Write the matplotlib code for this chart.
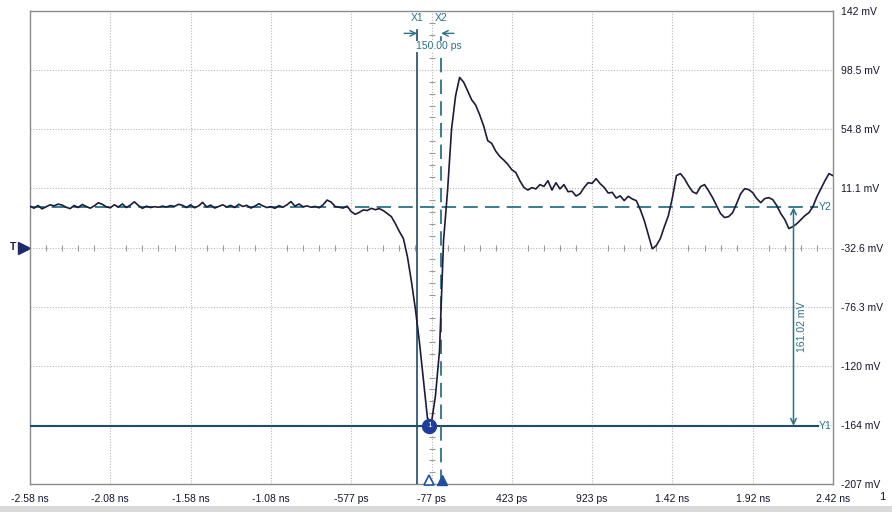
import numpy as np
import matplotlib
matplotlib.use("Agg")
import matplotlib.pyplot as plt
from matplotlib.transforms import blended_transform_factory
from matplotlib.patches import Rectangle

plt.rcParams['font.family'] = ['Liberation Sans', 'DejaVu Sans']

# ---------------- data ----------------
x_tick_values = [-2.577, -2.077, -1.577, -1.077, -0.577, -0.077, 0.423, 0.923, 1.423, 1.923, 2.423]
x_tick_labels = ['-2.58 ns', '-2.08 ns', '-1.58 ns', '-1.08 ns', '-577 ps', '-77 ps',
                 '423 ps', '923 ps', '1.42 ns', '1.92 ns', '2.42 ns']
y_tick_values = [142, 98.375, 54.75, 11.125, -32.5, -76.125, -119.75, -163.375, -207]
y_tick_labels = ['142 mV', '98.5 mV', '54.8 mV', '11.1 mV', '-32.6 mV', '-76.3 mV',
                 '-120 mV', '-164 mV', '-207 mV']

sample_start_ns = -2.577
sample_step_ns = 0.025
signal_mv = [
    -2.0, -3.5, -1.5, -4.0, -2.5, -1.0, -1.8, -0.5, -1.2, -2.8,
    -3.8, -1.5, -3.0, -0.8, -2.2, -3.5, -1.8, 0.5, -0.6, -2.5,
    -3.2, -1.0, -2.6, -0.4, -3.0, -1.2, 1.2, -1.5, -3.6, -2.0,
    -3.0, -2.4, -2.8, -2.0, -2.6, -1.6, -2.2, -0.6, -1.4, -3.0,
    -1.0, -3.2, -1.8, 0.8, -2.6, -1.2, -3.4, -2.2, -1.0, -2.6,
    -1.4, -3.0, -0.6, -2.2, -1.4, -3.4, -2.0, -0.2, -1.8, -3.0,
    -2.4, -3.6, -1.6, -2.8, -1.0, 1.4, -2.0, -0.4, -2.4, -1.8,
    -2.8, -2.2, -3.2, -1.0, 2.5, 1.0, -2.2, -2.8, -3.4, -2.0,
    -6.0, -8.0, -6.6, -4.8, -5.2, -3.6, -4.6, -3.8,
    -5.3, -7.5, -9.7, -14.9, -20.7, -25.9, -39.2, -57.6, -78.2, -102.5,
    -130.5, -158.5, -161.5, -141.5, -108.4, -27.4, 9.4, 55.1, 79.4, 93.0,
    89.5, 83.1, 76.5, 72.6, 65.4, 57.1, 46.3, 44.3, 38.6, 34.7,
    32.0, 28.9, 24.9, 22.8, 16.8, 11.9, 9.9, 11.7, 10.7, 13.9,
    12.6, 16.8, 9.9, 15.3, 10.7, 13.9, 8.7, 9.0, 5.5, 7.2,
    11.7, 15.3, 14.8, 18.3, 14.6, 11.9, 7.7, 8.2, 4.0, 5.6,
    2.1, 5.3, 3.3, 2.1, -4.5, -12.6, -23.0, -33.5, -31.0, -25.9,
    -17.1, -9.0, 4.3, 20.5, 22.0, 18.3, 13.1, 8.7, 7.2, 12.4,
    13.9, 9.4, 4.3, -1.6, -7.5, -10.4, -9.7, -6.8, -0.1, 7.2,
    10.9, 10.2, 8.0, 3.6, 0.6, 3.6, 4.3, 2.8, -1.6, -7.5,
    -11.9, -18.5, -17.1, -14.9, -11.9, -9.0, -6.8, -2.3, 5.0, 10.9,
    16.8, 22.0, 20.5,
]

cursor_x1_ns = -0.167
cursor_x2_ns = -0.017
cursor_y1_mv = -164.0
cursor_y2_mv = -2.98
marker_min_ns = -0.091
delta_t_label = '150.00 ps'
delta_v_label = '161.02 mV'
center_x_ns = -0.077
center_y_mv = -32.5

# ---------------- styling ----------------
W, H = 892, 512
fig = plt.figure(figsize=(W / 100, H / 100), dpi=100)
ax = fig.add_axes([30 / W, (H - 484) / H, (833 - 30) / W, (484 - 11) / H])

xmin, xmax = x_tick_values[0], x_tick_values[-1]
ymin, ymax = y_tick_values[-1], y_tick_values[0]
ax.set_xlim(xmin, xmax)
ax.set_ylim(ymin, ymax)

grid_col = '#b8b8b8'
for xv in x_tick_values[1:-1]:
    ax.axvline(xv, color=grid_col, lw=0.8, ls=(0, (1, 1.5)), zorder=1)
for yv in y_tick_values[1:-1]:
    ax.axhline(yv, color=grid_col, lw=0.8, ls=(0, (1, 1.5)), zorder=1)

# center crosshair minor ticks
xdiv = x_tick_values[1] - x_tick_values[0]
ydiv = y_tick_values[0] - y_tick_values[1]
mx = [xmin + xdiv / 5 * i for i in range(1, 50) if i % 5 != 0]
my = [ymin + ydiv / 5 * i for i in range(1, 40) if i % 5 != 0]
ax.plot(mx, [center_y_mv] * len(mx), ls='none', marker='|', ms=4, mew=0.8, color='#9a9a9a', zorder=1)
ax.plot([center_x_ns] * len(my), my, ls='none', marker='_', ms=4, mew=0.8, color='#9a9a9a', zorder=1)

for s in ax.spines.values():
    s.set_color('#8c8c8c')
    s.set_linewidth(1.0)

ax.set_xticks(x_tick_values)
ax.set_xticklabels(x_tick_labels)
ax.set_yticks(y_tick_values)
ax.set_yticklabels(y_tick_labels)
ax.yaxis.tick_right()
ax.tick_params(axis='both', length=0, labelsize=7.5, colors='#14142e')
ax.tick_params(axis='x', pad=7)
ax.tick_params(axis='y', pad=6)

# signal
t = sample_start_ns + sample_step_ns * np.arange(len(signal_mv))
ax.plot(t, signal_mv, color='#1c1c3a', lw=1.2, zorder=5)

teal = '#2a7288'
dark_teal = '#1d4d6a'

# Y cursors
ax.plot([xmin, 2.33], [cursor_y1_mv, cursor_y1_mv], color=dark_teal, lw=1.5, zorder=4)
ax.plot([xmin, 2.33], [cursor_y2_mv, cursor_y2_mv], color=teal, lw=1.3, ls=(0, (8, 4)), zorder=4)
ax.text(xmax - 0.01, cursor_y1_mv, 'Y1', color=teal, fontsize=7.5, ha='right', va='center')
ax.text(xmax - 0.01, cursor_y2_mv, 'Y2', color=teal, fontsize=7.5, ha='right', va='center')

# X cursors
ax.plot([cursor_x1_ns, cursor_x1_ns], [ymin, 128], color=dark_teal, lw=1.2, zorder=4)
ax.plot([cursor_x2_ns, cursor_x2_ns], [ymin, 128], color=teal, lw=1.3, ls=(0, (8, 4)), zorder=4)
ax.text(cursor_x1_ns, 137, 'X1', color=teal, fontsize=7.5, ha='center', va='center')
ax.text(cursor_x2_ns, 137, 'X2', color=teal, fontsize=7.5, ha='center', va='center')
ax.annotate('', xy=(cursor_x1_ns, 125.5), xytext=(cursor_x1_ns - 0.08, 125.5),
            arrowprops=dict(arrowstyle='->', color=teal, lw=1.0, shrinkA=0, shrinkB=0))
ax.annotate('', xy=(cursor_x2_ns, 125.5), xytext=(cursor_x2_ns + 0.08, 125.5),
            arrowprops=dict(arrowstyle='->', color=teal, lw=1.0, shrinkA=0, shrinkB=0))
ax.text((cursor_x1_ns + cursor_x2_ns) / 2 + 0.06, 116, delta_t_label, color=teal,
        fontsize=7.5, ha='center', va='center', zorder=6,
        bbox=dict(boxstyle='square,pad=0.05', fc='white', ec='none'))

# delta-V measurement
ax.annotate('', xy=(2.177, cursor_y1_mv), xytext=(2.177, cursor_y2_mv),
            arrowprops=dict(arrowstyle='<->', color=teal, lw=1.1, shrinkA=0, shrinkB=0), zorder=6)
ax.text(2.232, -91, delta_v_label, color=teal, fontsize=7.5, rotation=90,
        ha='center', va='center')

# min marker
ax.plot([marker_min_ns], [cursor_y1_mv], marker='o', ms=10, color='#1f3c9c', zorder=7)
ax.text(marker_min_ns, cursor_y1_mv, '1', color='white', fontsize=6, ha='center',
        va='center', zorder=8)

# bottom triangle markers
ax.plot([marker_min_ns], [-204], marker='^', ms=7, mfc='white', mec='#2050a0', mew=1.2,
        zorder=7, clip_on=False)
ax.plot([-0.010], [-204], marker='^', ms=7, color='#2050a0', zorder=7, clip_on=False)

# trigger marker
tr = blended_transform_factory(fig.transFigure, ax.transData)
ax.text(13 / W, center_y_mv, 'T', transform=tr, fontsize=7.5, color='#1c1c4c',
        ha='center', va='center', fontweight='bold')
ax.plot([24 / W], [center_y_mv], transform=tr, marker='>', ms=8, color='#1c2c6c',
        clip_on=False)

fig.text(882 / W, 1 - 497 / H, '1', fontsize=8, color='#14142e', ha='center', va='center')
fig.patches.append(Rectangle((0, 0), 1, 6 / H, transform=fig.transFigure,
                             fc='#d9d9d9', ec='none'))

fig.savefig('out.png', dpi=100)
